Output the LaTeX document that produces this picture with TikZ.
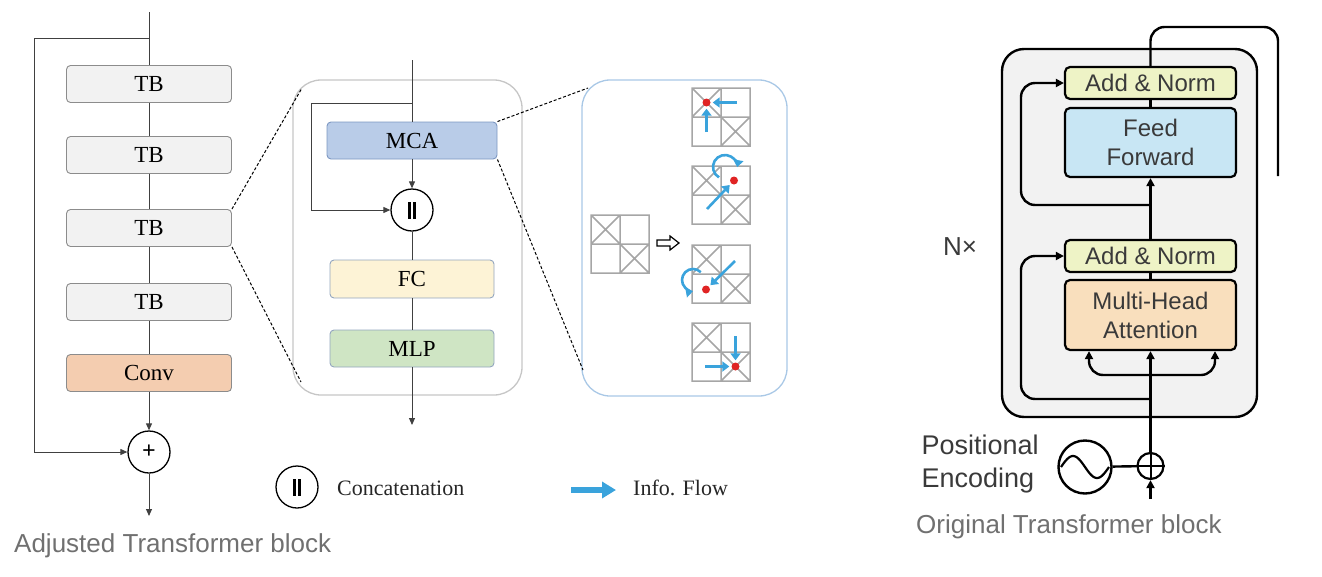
\documentclass[tikz,border=0pt]{standalone}
\usepackage{fontspec}
\setmainfont{Liberation Serif}
\newfontfamily\helvfont{Liberation Sans}
\usetikzlibrary{arrows.meta}

\definecolor{tbfill}{HTML}{F2F2F2}
\definecolor{boxedge}{HTML}{8C8C8C}
\definecolor{convfill}{HTML}{F4CDB0}
\definecolor{mcafill}{HTML}{B9CCE8}
\definecolor{mcaedge}{HTML}{7D98C2}
\definecolor{fcfill}{HTML}{FDF3D6}
\definecolor{mlpfill}{HTML}{CFE5C4}
\definecolor{softedge}{HTML}{93A6BF}
\definecolor{panelgray}{HTML}{C6C6C6}
\definecolor{infoedge}{HTML}{A9C8E6}
\definecolor{cellgray}{HTML}{A6A6A6}
\definecolor{flowblue}{HTML}{3AA3DC}
\definecolor{dotred}{HTML}{E02424}
\definecolor{normfill}{HTML}{EEF3C6}
\definecolor{ffnfill}{HTML}{C8E6F4}
\definecolor{mhafill}{HTML}{F9DFBD}
\definecolor{stackfill}{HTML}{F2F2F2}
\definecolor{capgray}{HTML}{707070}
\definecolor{inkgray}{HTML}{3A3A3A}

\newcommand{\catbars}{\rule{2.6pt}{17pt}\hspace{2.4pt}\rule{2.6pt}{17pt}}

\tikzset{
  blk/.style={draw=boxedge, rounded corners=4pt, line width=0.9pt, minimum width=165pt,
    minimum height=37pt, inner sep=0pt, font=\fontsize{23}{24}\selectfont},
  tb/.style={blk, fill=tbfill},
  convbox/.style={blk, fill=convfill},
  wire/.style={draw=black!75, line width=1pt},
  arr/.style={-{Triangle[length=7pt,width=6pt]}},
  zoomline/.style={densely dashed, line width=1pt},
  opcirc/.style={circle, draw, line width=1.3pt, minimum size=42pt, inner sep=0pt,
    font=\fontsize{24}{24}\selectfont\bfseries},
  panel/.style={draw, rounded corners=28pt, line width=1.3pt},
  cellline/.style={draw=cellgray, line width=1.5pt},
  dot/.style={circle, fill=dotred, minimum size=8pt, inner sep=0pt},
  flow/.style={draw=flowblue, line width=2.6pt, shorten >=2pt, -{Triangle[length=7pt,width=10pt]}},
  flowkey/.style={draw=flowblue, line width=6pt, -{Triangle[length=14pt,width=16pt]}},
  hollow/.style={draw, line width=1.2pt, line join=miter},
  legend/.style={inner sep=0pt, text=black!85, font=\fontsize{22}{24}\selectfont},
  caption/.style={inner sep=0pt, text=capgray, font=\helvfont\fontsize{26}{30}\selectfont},
  rbox/.style={draw, line width=2.2pt, rounded corners=5pt, minimum width=171pt, inner sep=0pt,
    align=center, text=inkgray, font=\helvfont\fontsize{24}{29}\selectfont},
  rline/.style={line width=2.4pt, rounded corners=14pt},
  rarr/.style={rline, -{Triangle[length=8pt,width=8pt]}},
  quad/.pic={
    \draw[cellline] (0,0) rectangle (58,58) (29,0) -- (29,58) (0,29) -- (58,29)
      (0,0) -- (29,29) (29,0) -- (0,29) (29,29) -- (58,58) (58,29) -- (29,58);
  }
}

\begin{document}
\begin{tikzpicture}[x=1pt, y=-1pt]
\useasboundingbox (0,0) rectangle (1322,576);

% adjusted transformer block
\coordinate (in) at (149,12);
\coordinate (split) at (149,38);
\node[tb] (tb1) at (149,84) {TB};
\node[tb] (tb2) at (149,155) {TB};
\node[tb] (tb3) at (149,228) {TB};
\node[tb] (tb4) at (149,302) {TB};
\node[convbox] (conv) at (149,373) {Conv};
\node[opcirc] (sum) at (149,452) {+};
\coordinate (skip) at (34,452);
\coordinate (out) at (149,516);
\draw[wire] (in) -- (tb1) -- (tb2) -- (tb3) -- (tb4) -- (conv);
\draw[wire, arr] (conv) -- (sum);
\draw[wire, arr] (sum) -- (out);
\draw[wire, arr] (split) -| (skip) -- (sum);

% one TB opened up
\node[panel, draw=panelgray, minimum width=229pt, minimum height=315pt] (mid) at (407.5,237.5) {};
\coordinate (mzt) at (302,88);
\coordinate (mzb) at (301,382);
\draw[zoomline] (tb3.north east) -- (mzt);
\draw[zoomline] (tb3.south east) -- (mzb);
\coordinate (min) at (412,60);
\coordinate (msplit) at (412,103);
\node[blk, fill=mcafill, draw=mcaedge, minimum width=170pt] (mca) at (412,140.5) {MCA};
\node[opcirc] (cat) at (412,210) {\catbars};
\node[blk, fill=fcfill, draw=softedge, minimum width=164pt, minimum height=38pt] (fc) at (412,279) {FC};
\node[blk, fill=mlpfill, draw=softedge, minimum width=164pt] (mlp) at (412,348.5) {MLP};
\coordinate (mskip) at (311,210);
\coordinate (mout) at (412,425);
\draw[wire] (min) -- (mca);
\draw[wire, arr] (mca) -- (cat);
\draw[wire] (cat) -- (fc) -- (mlp);
\draw[wire, arr] (mlp) -- (mout);
\draw[wire, arr] (msplit) -| (mskip) -- (cat);

% MCA opened up
\node[panel, draw=infoedge, minimum width=205pt, minimum height=316pt] (info) at (684.5,238) {};
\coordinate (izt) at (588,88);
\coordinate (izb) at (583,370);
\draw[zoomline] (mca.north east) -- (izt);
\draw[zoomline] (mca.south east) -- (izb);
\pic at (591,215) {quad};
\coordinate (imp) at (668,243);
\draw[hollow] (imp) ++(-11,-3) -- ++(13,0) -- ++(0,-4) -- ++(9,7) -- ++(-9,7) -- ++(0,-4) -- ++(-13,0) -- cycle;
\pic at (692,88) {quad};
\pic at (692,166) {quad};
\pic at (692,245) {quad};
\pic at (692,323) {quad};

\node[dot] (d1) at (706.5,102.5) {};
\coordinate (f1a) at (737,102.5);
\coordinate (f1b) at (706.5,132);
\draw[flow] (f1a) -- (d1);
\draw[flow] (f1b) -- (d1);

\node[dot] (d2) at (734,180.5) {};
\coordinate (f2a) at (707,209);
\coordinate (l2) at (719,177.4);
\draw[flow] (f2a) -- (d2);
\draw[flow] (l2) arc[start angle=120, end angle=370, radius=12];

\node[dot] (d3) at (706,289.5) {};
\coordinate (f3a) at (735,261);
\coordinate (l3) at (700.8,272.2);
\draw[flow] (f3a) -- (d3);
\draw[flow] (l3) arc[start angle=-45, end angle=-280, radius=11];

\node[dot] (d4) at (735.5,366.5) {};
\coordinate (f4a) at (735.5,336);
\coordinate (f4b) at (705,366.5);
\draw[flow] (f4a) -- (d4);
\draw[flow] (f4b) -- (d4);

% legend
\node[opcirc] (catkey) at (297,487) {\catbars};
\node[legend, anchor=west] (catlbl) at (337,488) {Concatenation};
\coordinate (fk1) at (571,490);
\coordinate (fk2) at (616,490);
\draw[flowkey] (fk1) -- (fk2);
\node[legend, anchor=west] (flowlbl) at (633,488) {Info. Flow};

% original transformer block
\node[draw, fill=stackfill, line width=2.4pt, rounded corners=22pt, minimum width=255pt,
  minimum height=368pt] (stack) at (1129.5,233) {};
\node[rbox, fill=normfill, minimum height=32pt] (an2) at (1150.5,83) {Add \& Norm};
\node[rbox, fill=ffnfill, minimum height=69pt] (ffn) at (1150.5,142.5) {Feed\\Forward};
\node[rbox, fill=normfill, minimum height=32pt] (an1) at (1150.5,256) {Add \& Norm};
\node[rbox, fill=mhafill, minimum height=70pt] (mha) at (1150.5,315) {Multi-Head\\Attention};
\node[text=inkgray, font=\helvfont\fontsize{26}{26}\selectfont] (nx) at (960,247) {N×};

\node[circle, draw, line width=2.2pt, minimum size=26pt, inner sep=0pt] (pos) at (1150.5,466) {};
\draw[line width=2pt] (pos.north) -- (pos.south) (pos.west) -- (pos.east);
\node[circle, draw, line width=2.4pt, minimum size=53pt, inner sep=0pt] (pe) at (1085,467) {};
\draw[line width=2.2pt, domain=-1:1, samples=40] plot ({1085+24*\x}, {467+11*sin(\x*180)});
\node[anchor=west, align=left, text=inkgray, font=\helvfont\fontsize{27}{33}\selectfont]
  (pelbl) at (918,464) {Positional\\Encoding};
\draw[rline] (pe) -- (pos);

\coordinate (xin) at (1150.5,499);
\coordinate (fork) at (1150.5,375);
\coordinate (kl) at (1089,375);
\coordinate (kr) at (1215,375);
\coordinate (r2s) at (1150.5,399);
\coordinate (r2c) at (1021,399);
\coordinate (r1s) at (1150.5,205);
\coordinate (r1c) at (1021,205);
\coordinate (t1) at (1150.5,27);
\coordinate (t2) at (1278,27);
\coordinate (t3) at (1278,176);
\draw[rarr] (xin) -- (pos);
\draw[rarr] (pos) -- (mha);
\draw[rarr] (fork) -- (kl) -- (mha.south -| kl);
\draw[rarr] (fork) -- (kr) -- (mha.south -| kr);
\draw[rarr] (r2s) -- (r2c) |- (an1.west);
\draw[rline] (mha) -- (an1);
\draw[rarr] (an1) -- (ffn);
\draw[rarr] (r1s) -- (r1c) |- (an2.west);
\draw[rline] (ffn) -- (an2);
\draw[rline] (an2) -- (t1) -- (t2) -- (t3);

% captions
\node[caption, anchor=west] (capl) at (14,546) {Adjusted Transformer block};
\node[caption, anchor=west] (capr) at (916,527) {Original Transformer block};
\end{tikzpicture}
\end{document}
